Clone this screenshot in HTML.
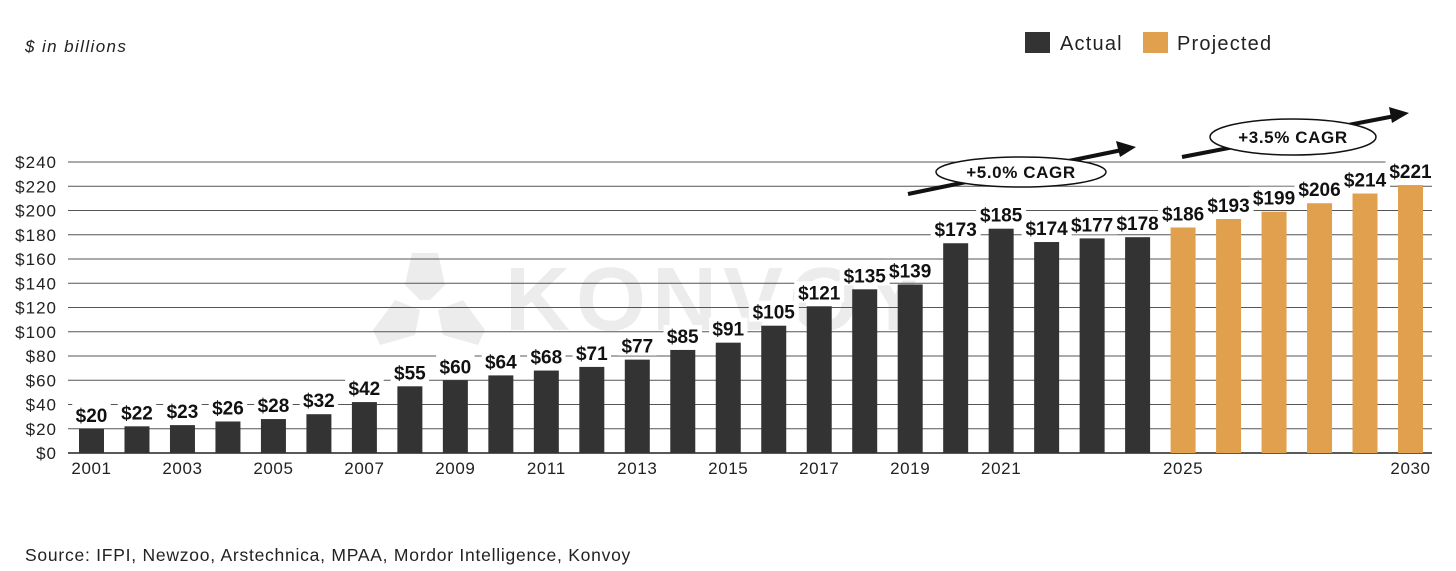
<!DOCTYPE html>
<html><head><meta charset="utf-8"><style>
html,body{margin:0;padding:0;background:#fff;width:1456px;height:571px;overflow:hidden}
svg{display:block;font-family:"Liberation Sans",sans-serif}
</style></head><body>
<svg id="chart" width="1456" height="571" viewBox="0 0 1456 571" xmlns="http://www.w3.org/2000/svg">
<text x="25" y="52" font-size="17" font-style="italic" letter-spacing="1.4" fill="#222">$ in billions</text>
<g>
<rect x="1025" y="32" width="25" height="21" fill="#333"/>
<text x="1060" y="50" font-size="20" letter-spacing="1.2" fill="#222">Actual</text>
<rect x="1143" y="32" width="25" height="21" fill="#e0a04e"/>
<text x="1177" y="50" font-size="20" letter-spacing="1.2" fill="#222">Projected</text>
</g>
<g fill="#ececec">
<polygon points="412,253 438,253 445,285 430,300 420,300 405,285"/>
<polygon points="373,330 395,300 420,310 415,335 380,345"/>
<polygon points="438,310 463,300 485,330 478,345 443,335"/>
<text x="505" y="330" font-size="90" font-weight="bold" letter-spacing="6">KONVOY</text>
</g>
<g id="grid"></g>
<g id="bars"></g>
<g id="labelbgs"></g>
<g id="labels"></g>
<g id="xticks"></g>
<g>
<line x1="908" y1="194" x2="1122" y2="150" stroke="#111" stroke-width="4"/>
<polygon points="1136,147 1116,141 1120,157" fill="#111"/>
<ellipse cx="1021" cy="172" rx="85" ry="15" fill="#fff" stroke="#111" stroke-width="1.5"/>
<text x="1021" y="178" font-size="17" font-weight="bold" letter-spacing="0.6" text-anchor="middle" fill="#111">+5.0% CAGR</text>
</g>
<g>
<line x1="1182" y1="157" x2="1395" y2="116" stroke="#111" stroke-width="4"/>
<polygon points="1409,113 1389,107 1392,123" fill="#111"/>
<ellipse cx="1293" cy="137" rx="83" ry="18" fill="#fff" stroke="#111" stroke-width="1.5"/>
<text x="1293" y="143" font-size="17" font-weight="bold" letter-spacing="0.6" text-anchor="middle" fill="#111">+3.5% CAGR</text>
</g>
<text x="25" y="561" font-size="17.5" letter-spacing="0.75" fill="#222">Source: IFPI, Newzoo, Arstechnica, MPAA, Mordor Intelligence, Konvoy</text>
</svg>
<script>
const years = [2001,2002,2003,2004,2005,2006,2007,2008,2009,2010,2011,2012,2013,2014,2015,2016,2017,2018,2019,2020,2021,2022,2023,2024,2025,2026,2027,2028,2029,2030];
const values = [20,22,23,26,28,32,42,55,60,64,68,71,77,85,91,105,121,135,139,173,185,174,177,178,186,193,199,206,214,221];
const projectedFrom = 2025;
const yTicks = [0,20,40,60,80,100,120,140,160,180,200,220,240];
const xTickLabels = [2001,2003,2005,2007,2009,2011,2013,2015,2017,2019,2021,2025,2030];

const NS='http://www.w3.org/2000/svg';
const y0=453, pxPer=291/240, x0=91.5, step=(1410.5-91.5)/29, bw=25;
const yS=v=>y0-v*pxPer;
const xS=i=>x0+i*step;
function mk(tag,attrs,parent,txt){const e=document.createElementNS(NS,tag);for(const k in attrs)e.setAttribute(k,attrs[k]);if(txt!==undefined)e.textContent=txt;document.getElementById(parent).appendChild(e);return e;}

yTicks.forEach(t=>{
  const l=mk('line',{x1:68,x2:1432,y1:yS(t),y2:yS(t),stroke:t===0?'#222':'#555','stroke-width':t===0?1.5:1},'grid');
  
  
  const tx=mk('text',{x:57,y:yS(t)+6,'font-size':17,'letter-spacing':1,'text-anchor':'end',fill:'#222'},'grid','$'+t);
  
  
});
values.forEach((v,i)=>{
  const proj=years[i]>=projectedFrom;
  const r=mk('rect',{x:xS(i)-bw/2,y:yS(v),width:bw,height:y0-yS(v),fill:proj?'#e0a04e':'#333'},'bars');
  
  
  const lbl='$'+v;
  const w=lbl.length*11.5+4;
  const bg=mk('rect',{x:xS(i)-w/2,y:yS(v)-25,width:w,height:21,fill:'#fff'},'labelbgs');
  
  
  const t=mk('text',{x:xS(i),y:yS(v)-7,'font-size':19,'font-weight':'bold','text-anchor':'middle',fill:'#111'},'labels',lbl);
  
  
});
xTickLabels.forEach(yr=>{
  const i=years.indexOf(yr);
  const t=mk('text',{x:xS(i),y:474,'font-size':17,'letter-spacing':0.6,'text-anchor':'middle',fill:'#222'},'xticks',String(yr));
  
  
});
</script>
</body></html>
